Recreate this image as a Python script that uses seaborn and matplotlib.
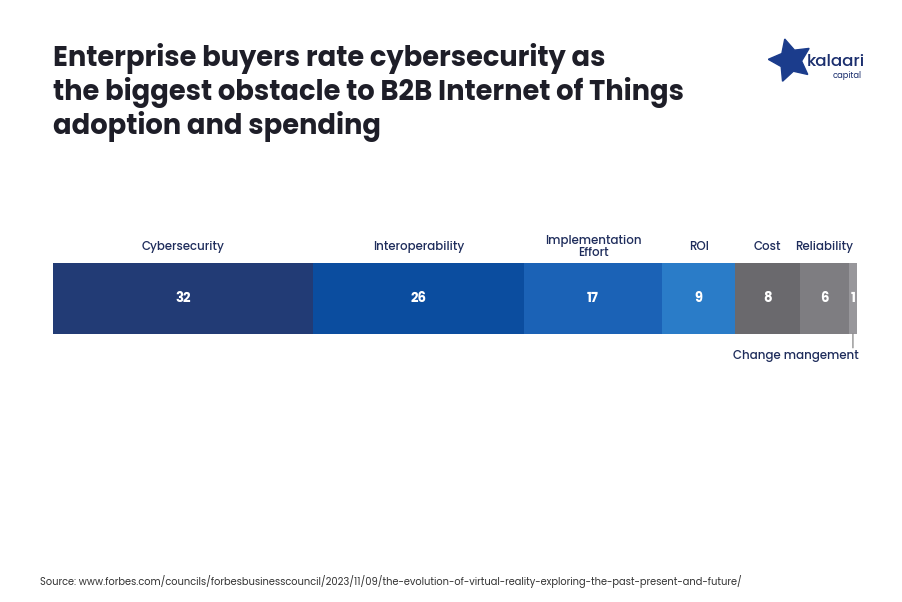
import matplotlib
matplotlib.use("Agg")
import matplotlib.pyplot as plt
import seaborn as sns
import numpy as np

sns.set_style("white")
plt.rcParams['font.family'] = ['Poppins', 'Lato', 'DejaVu Sans']

categories = ["Cybersecurity", "Interoperability", "Implementation\nEffort", "ROI",
              "Cost", "Reliability", "Change mangement"]
values = [32, 26, 17, 9, 8, 6, 1]
colors = ["#223b75", "#0b4d9f", "#1b62b6", "#2a7cc8", "#6a696d", "#7e7d81", "#98979b"]

title = ("Enterprise buyers rate cybersecurity as\n"
         "the biggest obstacle to B2B Internet of Things\n"
         "adoption and spending")
source = ("Source: www.forbes.com/councils/forbesbusinesscouncil/2023/11/09/"
          "the-evolution-of-virtual-reality-exploring-the-past-present-and-future/")

W, H = 902, 602
fig = plt.figure(figsize=(W / 100, H / 100), dpi=100)
fig.patch.set_facecolor("white")

# bar axes placed where the bar sits in the reference
x0, x1, ytop, ybot = 53, 857, 263, 334
ax = fig.add_axes([x0 / W, 1 - ybot / H, (x1 - x0) / W, (ybot - ytop) / H])

cum = np.cumsum(values)
starts = cum - np.array(values)
# stacked bar: draw cumulative totals from the largest down so each overlaps the previous
for i in range(len(values) - 1, -1, -1):
    sns.barplot(x=[cum[i]], y=["all"], color=colors[i], width=1.0,
                saturation=1, ax=ax, orient="h", linewidth=0)

ax.set_xlim(0, cum[-1])
ax.set_ylim(0.5, -0.5)
ax.axis("off")

label_color = "#1f2d5c"
for i, (cat, v) in enumerate(zip(categories, values)):
    mid = starts[i] + v / 2
    ax.text(mid, 0, str(v), ha="center", va="center", color="white",
            fontsize=9.5, fontweight="bold")
    if i < len(values) - 1:
        ax.annotate(cat, xy=(mid, -0.5), xycoords="data", xytext=(0, 11.5),
                    textcoords="offset points", ha="center", va="center",
                    fontsize=8.5, fontweight="medium", color=label_color,
                    linespacing=1.0)
    else:
        # leader line straight down, then the label below it
        ax.annotate("", xy=(mid, 0.5), xycoords="data", xytext=(0, -10),
                    textcoords="offset points",
                    arrowprops=dict(arrowstyle="-", color="#777777", lw=0.8,
                                    shrinkA=0, shrinkB=0))
        ax.annotate(cat, xy=(mid, 0.5), xycoords="data", xytext=(4.5, -15.5),
                    textcoords="offset points", ha="right", va="center",
                    fontsize=8.5, fontweight="medium", color=label_color)

fig.text(53 / W, 1 - 43 / H, title, ha="left", va="top", fontsize=19.7,
         fontweight="bold", color="#1e1e28", linespacing=1.12)

fig.text(40 / W, 1 - 582 / H, source, ha="left", va="center", fontsize=7.1,
         color="#333333")

# logo
lax = fig.add_axes([768 / W, 1 - 86 / H, 44 / W, 52 / H])
lax.plot([0.5], [0.5], marker=(5, 1, 15), markersize=32, color="#1b3c8c")
lax.set_xlim(0, 1)
lax.set_ylim(0, 1)
lax.axis("off")
fig.text(807 / W, 1 - 62 / H, "kalaari", ha="left", va="center", fontsize=12,
         fontweight="medium", color="#1b2f6e")
fig.text(862 / W, 1 - 76 / H, "capital", ha="right", va="center", fontsize=6,
         color="#1b2f6e")

fig.savefig("out.png", dpi=100, facecolor="white")
